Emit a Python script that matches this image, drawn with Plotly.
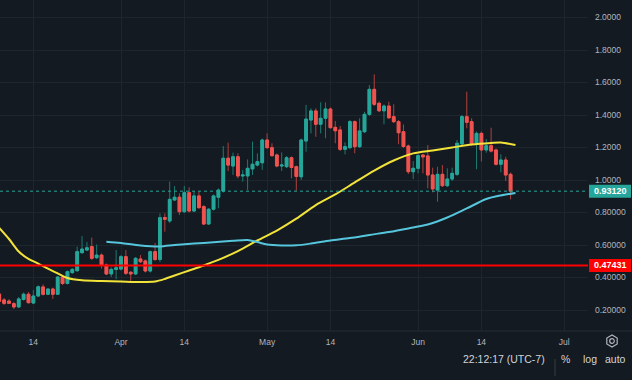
import plotly.graph_objects as go
import pandas as pd
import math

# ---------------- data ----------------
dates = pd.date_range("2024-03-07", "2024-06-20", freq="D")

open_ = [0.298, 0.262, 0.255, 0.239, 0.219, 0.265, 0.297, 0.243, 0.286, 0.342,
         0.297, 0.329, 0.297, 0.403, 0.363, 0.430, 0.442, 0.553, 0.569, 0.590,
         0.522, 0.538, 0.477, 0.422, 0.450,
         0.452, 0.528, 0.432, 0.422, 0.514, 0.502, 0.440, 0.559, 0.511, 0.769,
         0.748, 0.877, 0.894, 0.805, 0.922, 0.809, 0.902, 0.836, 0.729, 0.820,
         0.894, 0.932, 1.134, 1.086, 1.143, 1.025, 1.025, 1.068, 1.092, 1.106,
         1.246, 1.199, 1.154, 1.086, 1.082, 1.137, 1.082, 1.020, 1.240, 1.369,
         1.425, 1.343, 1.380, 1.437, 1.324, 1.308, 1.189, 1.199, 1.359, 1.205,
         1.297, 1.404, 1.558, 1.472, 1.426, 1.455, 1.390, 1.359, 1.297, 1.209,
         1.051,
         1.072, 1.154, 1.148, 1.031, 0.938, 1.035, 0.965, 1.006, 1.035, 1.222,
         1.390, 1.359, 1.220, 1.287, 1.185, 1.211, 1.185, 1.097, 1.123, 1.035]
high = [0.311, 0.274, 0.266, 0.249, 0.280, 0.308, 0.311, 0.323, 0.351, 0.358,
        0.335, 0.338, 0.409, 0.409, 0.443, 0.458, 0.590, 0.655, 0.618, 0.646,
        0.603, 0.548, 0.486, 0.462, 0.569,
        0.538, 0.569, 0.440, 0.526, 0.538, 0.511, 0.566, 0.612, 0.794, 0.795,
        0.990, 0.963, 0.918, 0.963, 0.955, 0.932, 0.932, 0.846, 0.828, 0.911,
        0.948, 1.209, 1.230, 1.168, 1.164, 1.062, 1.127, 1.236, 1.164, 1.255,
        1.287, 1.226, 1.163, 1.170, 1.148, 1.145, 1.089, 1.255, 1.462, 1.441,
        1.441, 1.478, 1.478, 1.446, 1.363, 1.332, 1.232, 1.369, 1.366, 1.380,
        1.420, 1.585, 1.650, 1.483, 1.465, 1.482, 1.466, 1.369, 1.342, 1.218,
        1.117,
        1.160, 1.158, 1.215, 1.076, 1.082, 1.092, 1.072, 1.076, 1.246, 1.400,
        1.543, 1.380, 1.298, 1.298, 1.252, 1.322, 1.194, 1.158, 1.143, 1.046]
low = [0.243, 0.231, 0.237, 0.206, 0.212, 0.258, 0.240, 0.237, 0.280, 0.289,
       0.292, 0.268, 0.292, 0.354, 0.357, 0.422, 0.434, 0.545, 0.563, 0.508,
       0.514, 0.455, 0.415, 0.403, 0.389,
       0.443, 0.415, 0.366, 0.415, 0.489, 0.431, 0.431, 0.502, 0.495, 0.682,
       0.735, 0.871, 0.785, 0.797, 0.800, 0.803, 0.822, 0.723, 0.723, 0.812,
       0.826, 0.923, 1.055, 1.031, 1.010, 0.990, 0.938, 1.031, 1.083, 1.062,
       1.191, 1.142, 1.078, 1.055, 1.074, 1.010, 0.935, 1.000, 1.174, 1.287,
       1.266, 1.287, 1.257, 1.317, 1.226, 1.178, 1.158, 1.191, 1.164, 1.197,
       1.289, 1.394, 1.455, 1.418, 1.343, 1.375, 1.351, 1.220, 1.197, 1.037,
       1.006,
       1.041, 1.041, 0.949, 0.924, 0.866, 0.957, 0.957, 0.994, 1.025, 1.205,
       1.318, 1.209, 1.066, 1.113, 1.168, 1.169, 1.089, 1.047, 0.994, 0.881]
close = [0.254, 0.241, 0.241, 0.219, 0.268, 0.297, 0.245, 0.286, 0.343, 0.297,
         0.329, 0.297, 0.403, 0.363, 0.436, 0.450, 0.559, 0.575, 0.583, 0.518,
         0.538, 0.477, 0.422, 0.450, 0.460,
         0.528, 0.426, 0.422, 0.518, 0.497, 0.440, 0.559, 0.511, 0.768, 0.758,
         0.881, 0.894, 0.805, 0.922, 0.809, 0.902, 0.830, 0.729, 0.820, 0.902,
         0.938, 1.134, 1.092, 1.143, 1.025, 1.031, 1.072, 1.097, 1.113, 1.246,
         1.199, 1.150, 1.086, 1.092, 1.137, 1.077, 1.022, 1.246, 1.375, 1.425,
         1.343, 1.380, 1.437, 1.322, 1.303, 1.189, 1.205, 1.359, 1.205, 1.302,
         1.404, 1.558, 1.466, 1.426, 1.455, 1.383, 1.359, 1.291, 1.206, 1.051,
         1.072,
         1.150, 1.142, 1.031, 0.945, 1.035, 0.965, 1.006, 1.041, 1.226, 1.390,
         1.355, 1.220, 1.287, 1.185, 1.211, 1.178, 1.097, 1.123, 1.031, 0.9312]

# moving averages
ma_yellow_dates = ["2024-03-07", "2024-03-09", "2024-03-11", "2024-03-13", "2024-03-15",
                   "2024-03-17", "2024-03-19", "2024-03-21", "2024-03-24", "2024-03-28",
                   "2024-04-01", "2024-04-05", "2024-04-08", "2024-04-10", "2024-04-12",
                   "2024-04-15", "2024-04-18", "2024-04-21", "2024-04-25", "2024-04-29",
                   "2024-05-03", "2024-05-07", "2024-05-11", "2024-05-15", "2024-05-19",
                   "2024-05-23", "2024-05-27", "2024-05-31", "2024-06-04", "2024-06-08",
                   "2024-06-12", "2024-06-16", "2024-06-18", "2024-06-21"]
ma_yellow = [0.705, 0.637, 0.560, 0.514, 0.486, 0.455, 0.425, 0.397, 0.383, 0.378,
             0.375, 0.372, 0.375, 0.391, 0.412, 0.443, 0.474, 0.508, 0.563, 0.628,
             0.689, 0.762, 0.846, 0.911, 0.985, 1.058, 1.120, 1.164, 1.182, 1.200,
             1.218, 1.228, 1.231, 1.215]

ma_cyan_dates = ["2024-03-29", "2024-04-01", "2024-04-05", "2024-04-09", "2024-04-12",
                 "2024-04-16", "2024-04-20", "2024-04-24", "2024-04-27", "2024-04-29",
                 "2024-05-01", "2024-05-04", "2024-05-07", "2024-05-10", "2024-05-14",
                 "2024-05-18", "2024-05-22", "2024-05-26", "2024-05-30", "2024-06-03",
                 "2024-06-07", "2024-06-11", "2024-06-15", "2024-06-18", "2024-06-21"]
ma_cyan = [0.620, 0.612, 0.597, 0.591, 0.600, 0.609, 0.617, 0.626, 0.631, 0.618,
           0.603, 0.597, 0.598, 0.609, 0.628, 0.643, 0.662, 0.680, 0.702, 0.726,
           0.769, 0.825, 0.883, 0.905, 0.920]

alert_level = 0.47431
last_price = close[-1]

x_tick_dates = ["2024-03-14", "2024-04-01", "2024-04-14", "2024-05-01",
                "2024-05-14", "2024-06-01", "2024-06-14", "2024-07-01"]
x_tick_text = ["14", "Apr", "14", "May", "14", "Jun", "14", "Jul"]
y_tick_vals = [0.2, 0.4, 0.6, 0.8, 1.0, 1.2, 1.4, 1.6, 1.8, 2.0]
y_tick_text = ["0.20000", "0.40000", "0.60000", "0.80000", "1.0000",
               "1.2000", "1.4000", "1.6000", "1.8000", "2.0000"]

# ---------------- style ----------------
W, H = 632, 380
PR, PB = 588, 331            # plot right / bottom in px
BG = "#131a21"
GRID = "#1d252d"
TXT = "#b2b5be"
UP, DN = "#26a69a", "#ef5350"
UP_WICK, DN_WICK = "#1b7b72", "#b0403e"
FONT = "Liberation Sans, Arial, sans-serif"


def pxx(x):
    return x / PR


def pxy(y):
    return (PB - y) / PB


fig = go.Figure()

# wicks (darker)
fig.add_trace(go.Candlestick(
    x=dates, open=open_, high=high, low=low, close=close,
    increasing=dict(line=dict(color=UP_WICK, width=1), fillcolor=UP),
    decreasing=dict(line=dict(color=DN_WICK, width=1), fillcolor=DN),
    whiskerwidth=0, hoverinfo="skip", showlegend=False))

# bodies
body_hi = [max(o, c) for o, c in zip(open_, close)]
body_lo = [min(o, c) for o, c in zip(open_, close)]
fig.add_trace(go.Candlestick(
    x=dates, open=open_, high=body_hi, low=body_lo, close=close,
    increasing=dict(line=dict(color=UP, width=1), fillcolor=UP),
    decreasing=dict(line=dict(color=DN, width=1), fillcolor=DN),
    whiskerwidth=0, hoverinfo="skip", showlegend=False))

fig.add_trace(go.Scatter(x=ma_yellow_dates, y=ma_yellow, mode="lines",
                         line=dict(color="#f2e33a", width=2, shape="spline", smoothing=0.8),
                         hoverinfo="skip", showlegend=False))
fig.add_trace(go.Scatter(x=ma_cyan_dates, y=ma_cyan, mode="lines",
                         line=dict(color="#55c6dc", width=2, shape="spline", smoothing=0.8),
                         hoverinfo="skip", showlegend=False))

shapes = [
    dict(type="line", xref="paper", x0=0, x1=1, yref="y", y0=last_price, y1=last_price,
         line=dict(color=UP, width=1, dash="dot"), layer="above"),
    dict(type="line", xref="paper", x0=0, x1=1, yref="y", y0=alert_level, y1=alert_level,
         line=dict(color="#ff0000", width=2), layer="above"),
    dict(type="rect", xref="paper", xsizemode="pixel", xanchor=1, x0=1, x1=43,
         yref="y", ysizemode="pixel", yanchor=last_price, y0=-6.5, y1=6.5,
         fillcolor=UP, line=dict(width=0), layer="above"),
    dict(type="rect", xref="paper", xsizemode="pixel", xanchor=1, x0=1, x1=43,
         yref="y", ysizemode="pixel", yanchor=alert_level, y0=-6.5, y1=6.5,
         fillcolor="#ff0000", line=dict(width=0), layer="above"),
    dict(type="line", xref="paper", x0=0, x1=W / PR, yref="paper", y0=0, y1=0,
         line=dict(color="#262e36", width=1), layer="above"),
    dict(type="line", xref="paper", x0=pxx(555), x1=pxx(555), yref="paper",
         y0=pxy(359), y1=pxy(376), line=dict(color="#363c45", width=1)),
]

# settings icon (hexagon + circle)
cx, cy, r = 612, 341, 6
pts = []
for k in range(6):
    a = math.radians(90 + 60 * k)
    pts.append((pxx(cx + r * math.cos(a)), pxy(cy - r * math.sin(a))))
path = "M " + " L ".join(f"{px:.5f},{py:.5f}" for px, py in pts) + " Z"
shapes.append(dict(type="path", xref="paper", yref="paper", path=path,
                   line=dict(color=TXT, width=1.2)))
shapes.append(dict(type="circle", xref="paper", yref="paper",
                   x0=pxx(cx - 2.3), x1=pxx(cx + 2.3), y0=pxy(cy + 2.3), y1=pxy(cy - 2.3),
                   line=dict(color=TXT, width=1.2)))

annotations = [
    dict(x=pxx(610), xref="paper", xanchor="center", y=last_price, yref="y",
         text="<b>%.5f</b>" % last_price, showarrow=False,
         font=dict(color="#ffffff", size=9, family=FONT)),
    dict(x=pxx(610), xref="paper", xanchor="center", y=alert_level, yref="y",
         text="<b>%.5f</b>" % alert_level, showarrow=False,
         font=dict(color="#ffffff", size=9, family=FONT)),
    dict(x=pxx(547), xref="paper", xanchor="right", y=pxy(367), yref="paper",
         text="22:12:17 (UTC-7)", showarrow=False, font=dict(color="#d1d4dc", size=10.5, family=FONT)),
    dict(x=pxx(565), xref="paper", xanchor="center", y=pxy(367), yref="paper",
         text="%", showarrow=False, font=dict(color="#d1d4dc", size=10.5, family=FONT)),
    dict(x=pxx(590), xref="paper", xanchor="center", y=pxy(367), yref="paper",
         text="log", showarrow=False, font=dict(color="#d1d4dc", size=10.5, family=FONT)),
    dict(x=pxx(615.5), xref="paper", xanchor="center", y=pxy(367), yref="paper",
         text="auto", showarrow=False, font=dict(color="#d1d4dc", size=10.5, family=FONT)),
]

fig.update_layout(
    width=W, height=H,
    margin=dict(l=0, r=W - PR, t=0, b=H - PB, pad=0),
    paper_bgcolor=BG, plot_bgcolor=BG,
    showlegend=False, hovermode=False,
    boxgap=0.2,
    shapes=shapes, annotations=annotations,
    font=dict(family=FONT, color=TXT, size=8.5),
    xaxis=dict(type="date", range=["2024-03-07 03:41", "2024-07-05 21:26"],
               tickvals=x_tick_dates, ticktext=x_tick_text,
               showgrid=True, gridcolor=GRID, gridwidth=1, zeroline=False,
               showline=False, ticks="", ticklabelstandoff=4,
               tickfont=dict(color=TXT, size=8.5, family=FONT),
               rangeslider=dict(visible=False), fixedrange=True),
    yaxis=dict(side="right", range=[0.0708, 2.1077],
               tickvals=y_tick_vals, ticktext=y_tick_text,
               showgrid=True, gridcolor=GRID, gridwidth=1, zeroline=False,
               showline=False, ticks="", ticklabelstandoff=6,
               tickfont=dict(color=TXT, size=8.5, family=FONT), fixedrange=True),
)

fig.write_html("out.html", config={"displayModeBar": False},
               post_script="document.body.style.margin='0';document.body.style.background='%s';" % BG)
